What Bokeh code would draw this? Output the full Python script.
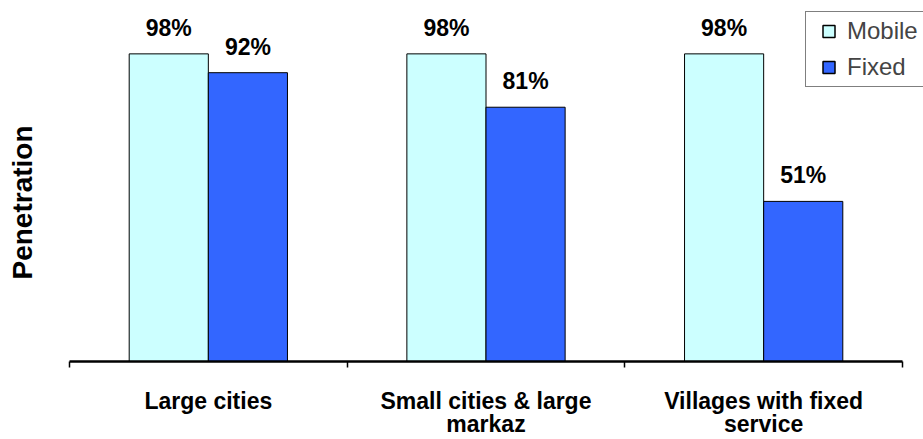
import numpy as np
from bokeh.plotting import figure
from bokeh.models import (ColumnDataSource, Range1d, FixedTicker, Legend,
                          LegendItem, Label)
from bokeh.embed import file_html
from bokeh.resources import INLINE

# Penetration of mobile and fixed service by area type (%)
categories = ["Large cities", "Small cities & large\nmarkaz", "Villages with fixed\nservice"]
series_names = ["Mobile", "Fixed"]
mobile = [98, 98, 98]
fixed = [92, 81, 51]

FONT = "Liberation Sans"
MOBILE_COLOR = "#CCFFFF"
FIXED_COLOR = "#3366FF"
BAR_WIDTH = 0.285
Y_MAX = 115

W, H = 923, 439
AXIS_LEFT, AXIS_RIGHT, AXIS_Y = 69, 902, 361     # pixel extent of the category axis
n = len(categories)
unit = (AXIS_RIGHT - AXIS_LEFT) / n               # pixels per category group

centers = np.arange(n) + 0.5

mobile_src = ColumnDataSource(dict(
    x=centers - BAR_WIDTH / 2, top=mobile, label=[f"{v}%" for v in mobile]))
fixed_src = ColumnDataSource(dict(
    x=centers + BAR_WIDTH / 2, top=fixed, label=[f"{v}%" for v in fixed]))

# the frame spans the full width so the title and legend can sit in it;
# the axis line itself is bounded to the category groups
p = figure(width=W, height=H, output_backend="svg", toolbar_location=None,
           x_range=Range1d(-AXIS_LEFT / unit, n + (W - AXIS_RIGHT) / unit),
           y_range=Range1d(0, Y_MAX),
           y_axis_location=None,
           min_border_left=0, min_border_right=0,
           min_border_top=0, min_border_bottom=H - AXIS_Y)
p.outline_line_color = None
p.grid.visible = False
p.background_fill_color = "white"
p.border_fill_color = "white"

r_mobile = p.vbar(x="x", top="top", bottom=0, width=BAR_WIDTH, source=mobile_src,
                  fill_color=MOBILE_COLOR, line_color="black", line_width=1)
r_fixed = p.vbar(x="x", top="top", bottom=0, width=BAR_WIDTH, source=fixed_src,
                 fill_color=FIXED_COLOR, line_color="black", line_width=1)

for src in (mobile_src, fixed_src):
    p.text(x="x", y="top", text="label", source=src, y_offset=-13,
           text_align="center", text_baseline="bottom",
           text_font={"value": FONT}, text_font_style="bold",
           text_font_size="23px", text_color="black")

# category axis: labels at group centres, tick marks at group boundaries
ax = p.xaxis[0]
ax.bounds = (0.0, float(n))
ax.ticker = FixedTicker(ticks=list(centers), minor_ticks=list(range(n + 1)))
ax.major_label_overrides = {float(c): t for c, t in zip(centers, categories)}
ax.major_tick_line_color = None
ax.major_tick_in = 0
ax.major_tick_out = 0
ax.minor_tick_line_color = "black"
ax.minor_tick_line_width = 1.5
ax.minor_tick_in = 0
ax.minor_tick_out = 6
ax.axis_line_color = "black"
ax.axis_line_width = 2.5
ax.major_label_standoff = 20
ax.major_label_text_font = FONT
ax.major_label_text_font_style = "bold"
ax.major_label_text_font_size = "23px"
ax.major_label_text_color = "black"
ax.major_label_text_line_height = 0.9

# vertical axis title in the left margin
p.add_layout(Label(x=-(AXIS_LEFT - 22) / unit, y=Y_MAX * (AXIS_Y - 202) / AXIS_Y,
                   x_units="data", y_units="data",
                   text="Penetration", angle=np.pi / 2,
                   text_align="center", text_baseline="middle",
                   text_font=FONT, text_font_style="bold",
                   text_font_size="28px", text_color="black"))

# square swatches used only by the legend
sw_mobile = p.scatter(x=np.array([np.nan]), y=np.array([np.nan]), marker="square",
                      size=12, fill_color=MOBILE_COLOR, line_color="black",
                      line_width=1.5)
sw_fixed = p.scatter(x=np.array([np.nan]), y=np.array([np.nan]), marker="square",
                     size=12, fill_color=FIXED_COLOR, line_color="black",
                     line_width=1.5)

legend = Legend(items=[LegendItem(label=series_names[0], renderers=[sw_mobile]),
                       LegendItem(label=series_names[1], renderers=[sw_fixed])],
                location=(805, AXIS_Y - 87), orientation="vertical",
                glyph_width=37, glyph_height=30, label_standoff=0,
                label_text_font=FONT, label_text_font_size="24px",
                label_text_baseline="middle",
                label_width=80, label_height=30, spacing=6, padding=4, margin=0,
                border_line_color="black", border_line_width=1.5,
                background_fill_color="white", background_fill_alpha=1.0)
p.add_layout(legend)

open("out.html", "w").write(file_html(p, INLINE))
